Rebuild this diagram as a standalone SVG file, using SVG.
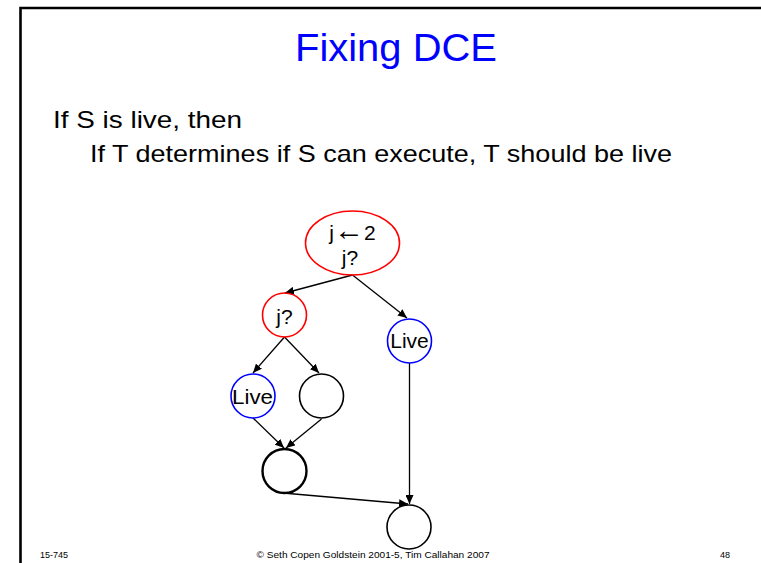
<svg xmlns="http://www.w3.org/2000/svg" width="761" height="563" viewBox="0 0 761 563">
  <style>
    text { font-family: "Liberation Sans", "DejaVu Sans", sans-serif; fill: #000; }
    .title { font-size: 38px; fill: #0000ff; }
    .body { font-size: 24px; }
    .lbl { font-size: 21px; text-anchor: middle; }
    .foot { font-size: 9px; }
    .red { fill: none; stroke: #ff0000; stroke-width: 1.6; }
    .blue { fill: none; stroke: #0000ff; stroke-width: 1.6; }
    .plain { fill: none; stroke: #000; stroke-width: 1.6; }
    .thick { fill: none; stroke: #000; stroke-width: 2.4; }
    .edge { stroke: #000; stroke-width: 1.3; fill: none; marker-end: url(#arrow); }
  </style>
  <defs>
    <marker id="arrow" markerUnits="userSpaceOnUse" markerWidth="10" markerHeight="8" refX="9" refY="4" orient="auto">
      <path d="M0,0 L9,4 L0,8 Z" fill="#000"/>
    </marker>
  </defs>

  <rect width="761" height="563" fill="#fff"/>

  <!-- slide frame -->
  <path d="M20.5,563 V8 H761" fill="none" stroke="#000" stroke-width="2.6"/>

  <text class="title" x="396" y="61" text-anchor="middle" textLength="202" lengthAdjust="spacingAndGlyphs">Fixing DCE</text>
  <text class="body" x="53" y="128" textLength="189" lengthAdjust="spacingAndGlyphs">If S is live, then</text>
  <text class="body" x="90" y="162" textLength="582" lengthAdjust="spacingAndGlyphs">If T determines if S can execute, T should be live</text>

  <!-- connectors -->
  <g id="edges">
    <line class="edge" x1="352.5" y1="275" x2="285" y2="293"/>
    <line class="edge" x1="352.5" y1="275" x2="407" y2="318"/>
    <line class="edge" x1="284.5" y1="337" x2="253" y2="373"/>
    <line class="edge" x1="284.5" y1="337" x2="319" y2="373"/>
    <line class="edge" x1="253" y1="418" x2="284" y2="448"/>
    <line class="edge" x1="321.5" y1="419" x2="286" y2="448"/>
    <line class="edge" x1="409.5" y1="363" x2="409.5" y2="504"/>
    <line class="edge" x1="283" y1="493" x2="408" y2="504"/>
  </g>

  <g id="n-entry">
    <ellipse class="red" cx="352.5" cy="243" rx="47" ry="32"/>
    <text class="lbl" x="352.5" y="240" font-size="24">j<tspan font-size="30">←</tspan>2</text>
    <text class="lbl" x="350" y="265" font-size="24">j?</text>
  </g>
  <g id="n-test">
    <circle class="red" cx="284.5" cy="315" r="22"/>
    <text class="lbl" x="284.5" y="324" font-size="24">j?</text>
  </g>
  <g id="n-live-right">
    <circle class="blue" cx="409.5" cy="341" r="22"/>
    <text class="lbl" x="409.5" y="348">Live</text>
  </g>
  <g id="n-live-left">
    <circle class="blue" cx="253" cy="396" r="22"/>
    <text class="lbl" x="252.5" y="404" textLength="41" lengthAdjust="spacingAndGlyphs">Live</text>
  </g>
  <g id="n-empty">
    <circle class="plain" cx="321.5" cy="396" r="22"/>
  </g>
  <g id="n-join">
    <circle class="thick" cx="284.5" cy="471" r="22"/>
  </g>
  <g id="n-exit">
    <circle class="plain" cx="409" cy="527" r="22"/>
  </g>

  <text class="foot" x="40" y="558">15-745</text>
  <text class="foot" x="373" y="558" text-anchor="middle" textLength="233" lengthAdjust="spacingAndGlyphs">© Seth Copen Goldstein 2001-5, Tim Callahan 2007</text>
  <text class="foot" x="720" y="558">48</text>
</svg>
